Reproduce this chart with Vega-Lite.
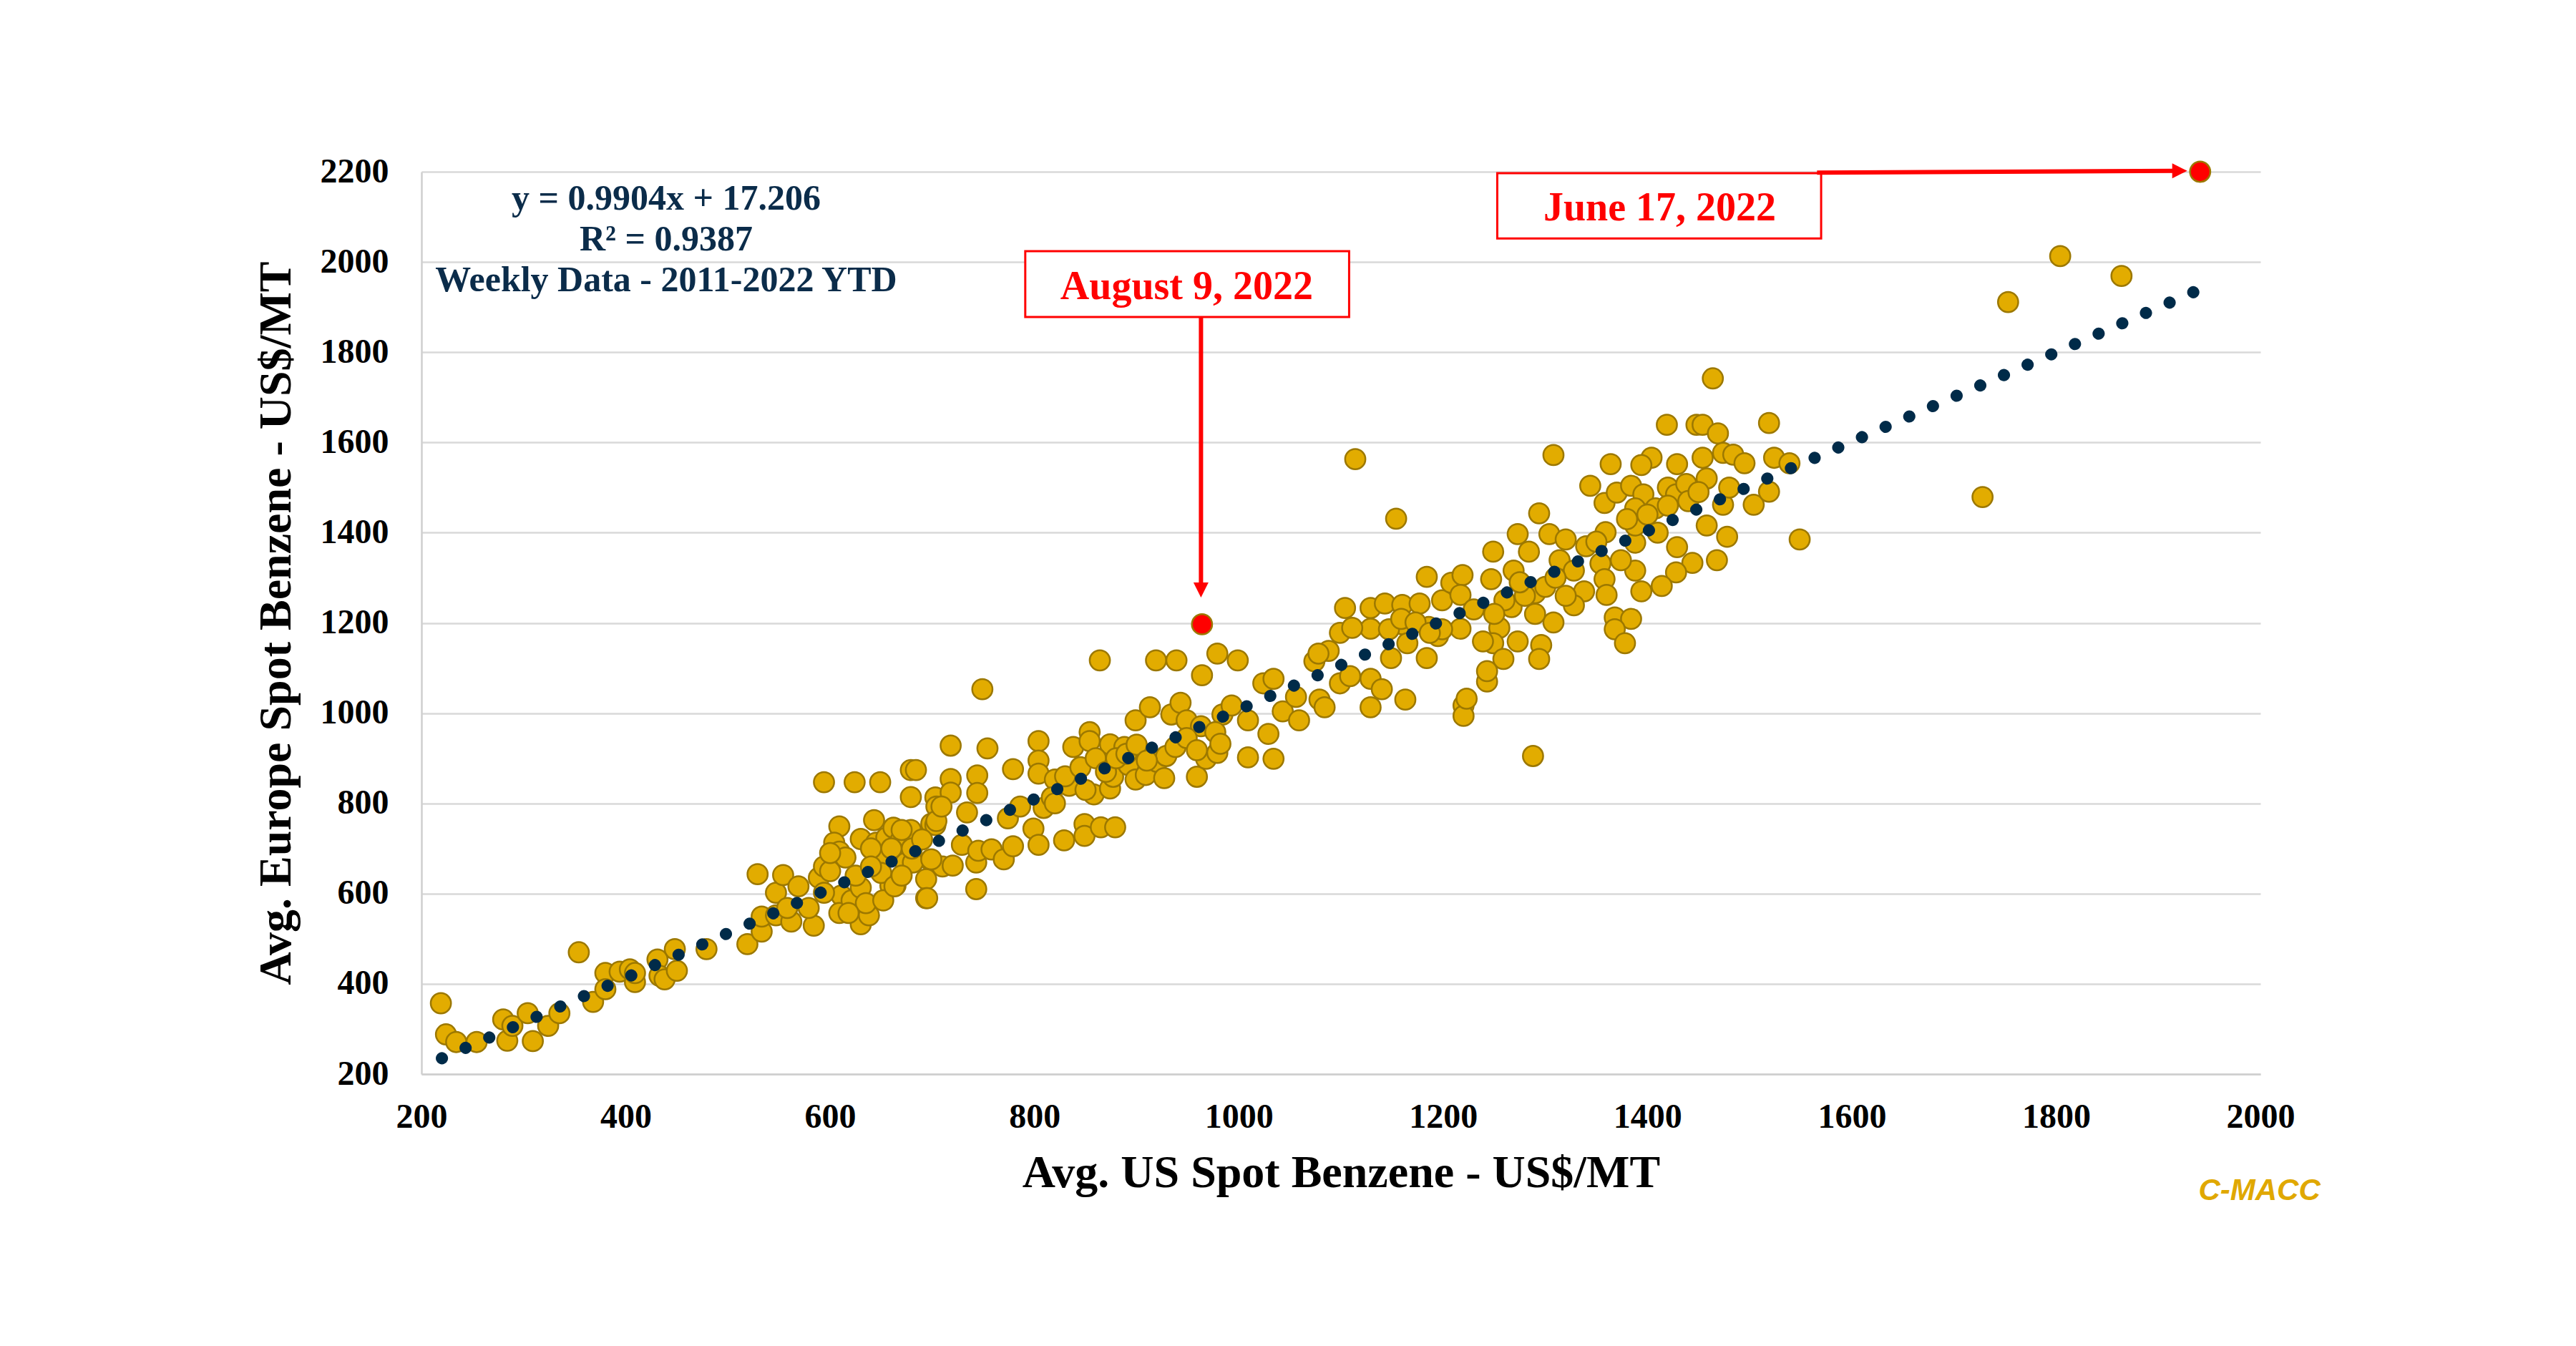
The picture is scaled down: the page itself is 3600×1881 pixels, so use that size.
{
  "$schema": "https://vega.github.io/schema/vega-lite/v6.json",
  "width": 2570,
  "height": 1261,
  "autosize": {"type": "none"},
  "padding": {"left": 589, "top": 240, "right": 441, "bottom": 380},
  "background": "white",
  "config": {
    "view": {"stroke": null},
    "axis": {
      "labelFont": "Liberation Serif",
      "labelFontWeight": "bold",
      "labelFontSize": 48,
      "labelColor": "#000000",
      "titleFont": "Liberation Serif",
      "titleFontWeight": "bold",
      "titleFontSize": 64,
      "titleColor": "#000000",
      "ticks": false,
      "tickSize": 0,
      "domainColor": "#CFCFCF",
      "domainWidth": 2.5,
      "gridColor": "#D9D9D9",
      "gridWidth": 2.5,
      "labelOverlap": false,
      "labelFlush": false,
      "format": "d"
    }
  },
  "datasets": {
    "weekly": [
      {"us":219,"eu":357},{"us":224,"eu":288},{"us":234,"eu":271},{"us":254,"eu":271},{"us":280,"eu":321},{"us":284,"eu":274},{"us":289,"eu":307},{"us":304,"eu":335},{"us":309,"eu":273},{"us":324,"eu":307},
      {"us":335,"eu":335},{"us":354,"eu":470},{"us":368,"eu":360},{"us":380,"eu":424},{"us":380,"eu":388},{"us":394,"eu":427},{"us":404,"eu":432},{"us":409,"eu":404},{"us":409,"eu":424},{"us":431,"eu":454},
      {"us":433,"eu":418},{"us":438,"eu":410},{"us":448,"eu":477},{"us":450,"eu":429},{"us":479,"eu":477},{"us":519,"eu":488},{"us":533,"eu":516},{"us":533,"eu":549},{"us":547,"eu":552},{"us":547,"eu":602},
      {"us":562,"eu":538},{"us":584,"eu":529},{"us":579,"eu":568},{"us":554,"eu":641},{"us":529,"eu":643},{"us":569,"eu":616},{"us":589,"eu":635},{"us":594,"eu":660},{"us":609,"eu":749},{"us":604,"eu":713},
      {"us":609,"eu":693},{"us":611,"eu":596},{"us":609,"eu":557},{"us":630,"eu":532},{"us":638,"eu":552},{"us":621,"eu":585},{"us":630,"eu":613},{"us":635,"eu":579},{"us":643,"eu":763},{"us":630,"eu":721},
      {"us":645,"eu":713},{"us":655,"eu":724},{"us":662,"eu":746},{"us":669,"eu":718},{"us":679,"eu":741},{"us":652,"eu":679},{"us":659,"eu":618},{"us":664,"eu":618},{"us":674,"eu":668},{"us":650,"eu":646},
      {"us":679,"eu":874},{"us":684,"eu":874},{"us":679,"eu":814},{"us":703,"eu":813},{"us":704,"eu":793},{"us":699,"eu":755},{"us":703,"eu":752},{"us":698,"eu":674},{"us":694,"eu":632},{"us":694,"eu":590},
      {"us":710,"eu":660},{"us":718,"eu":854},{"us":718,"eu":824},{"us":594,"eu":847},{"us":624,"eu":847},{"us":649,"eu":847},{"us":558,"eu":568},{"us":594,"eu":602},{"us":618,"eu":557},{"us":652,"eu":585},
      {"us":1154,"eu":1431},{"us":749,"eu":1053},{"us":864,"eu":1117},{"us":919,"eu":1117},{"us":939,"eu":1117},{"us":979,"eu":1132},{"us":999,"eu":1117},{"us":964,"eu":1084},{"us":718,"eu":928},{"us":754,"eu":922},
      {"us":804,"eu":938},{"us":744,"eu":862},{"us":744,"eu":823},{"us":779,"eu":876},{"us":804,"eu":895},{"us":804,"eu":866},{"us":820,"eu":853},{"us":838,"eu":925},{"us":854,"eu":958},{"us":854,"eu":938},
      {"us":874,"eu":931},{"us":888,"eu":925},{"us":899,"eu":984},{"us":913,"eu":1013},{"us":934,"eu":997},{"us":943,"eu":1023},{"us":949,"eu":984},{"us":963,"eu":971},{"us":984,"eu":997},{"us":993,"eu":1017},
      {"us":1009,"eu":984},{"us":1024,"eu":1066},{"us":1034,"eu":1076},{"us":1029,"eu":954},{"us":1009,"eu":902},{"us":1034,"eu":899},{"us":1043,"eu":1004},{"us":1059,"eu":984},{"us":1056,"eu":1036},{"us":1074,"eu":1115},
      {"us":1088,"eu":1138},{"us":1079,"eu":1030},{"us":1084,"eu":1013},{"us":1099,"eu":1178},{"us":1104,"eu":1233},{"us":1099,"eu":1066},{"us":1109,"eu":1082},{"us":1129,"eu":1187},{"us":1129,"eu":1233},{"us":1129,"eu":1076},
      {"us":1129,"eu":1013},{"us":1140,"eu":1053},{"us":1143,"eu":1243},{"us":1149,"eu":1122},{"us":1160,"eu":1240},{"us":1160,"eu":1197},{"us":1163,"eu":1030},{"us":1165,"eu":1155},{"us":1177,"eu":1243},{"us":1184,"eu":1302},
      {"us":1184,"eu":1122},{"us":1195,"eu":1171},{"us":1199,"eu":1250},{"us":1208,"eu":1289},{"us":1217,"eu":1187},{"us":1219,"eu":1306},{"us":1220,"eu":1017},{"us":1220,"eu":994},{"us":1186,"eu":1191},
      {"us":670,"eu":741},{"us":681,"eu":669},{"us":663,"eu":616},{"us":695,"eu":590},{"us":699,"eu":676},{"us":704,"eu":761},{"us":709,"eu":793},{"us":720,"eu":662},{"us":729,"eu":708},{"us":734,"eu":780},
      {"us":743,"eu":610},{"us":743,"eu":669},{"us":745,"eu":695},{"us":758,"eu":698},{"us":770,"eu":676},{"us":774,"eu":767},{"us":779,"eu":705},{"us":786,"eu":793},{"us":799,"eu":744},{"us":804,"eu":708},
      {"us":809,"eu":790},{"us":817,"eu":813},{"us":829,"eu":718},{"us":834,"eu":839},{"us":849,"eu":754},{"us":849,"eu":728},{"us":858,"eu":820},{"us":865,"eu":747},{"us":874,"eu":833},{"us":879,"eu":747},
      {"us":877,"eu":859},{"us":892,"eu":885},{"us":899,"eu":853},{"us":909,"eu":863},{"us":920,"eu":892},{"us":927,"eu":856},{"us":929,"eu":905},{"us":938,"eu":925},{"us":949,"eu":945},{"us":959,"eu":859},
      {"us":968,"eu":899},{"us":979,"eu":912},{"us":977,"eu":958},{"us":959,"eu":918},
      {"us":1078,"eu":1132},{"us":1111,"eu":1189},{"us":1147,"eu":1186},{"us":1159,"eu":1209},{"us":1173,"eu":1201},{"us":1217,"eu":1262},{"us":1223,"eu":1032},{"us":1199,"eu":1186},{"us":1187,"eu":1178},{"us":982,"eu":932},
      {"us":1114,"eu":1563},
      {"us":1464,"eu":1742},{"us":1419,"eu":1639},{"us":1448,"eu":1639},{"us":1454,"eu":1639},{"us":1469,"eu":1620},{"us":1519,"eu":1643},{"us":1308,"eu":1572},{"us":1364,"eu":1552},{"us":1404,"eu":1566},{"us":1394,"eu":1550},
      {"us":1429,"eu":1552},{"us":1454,"eu":1566},{"us":1474,"eu":1577},{"us":1484,"eu":1573},{"us":1495,"eu":1554},{"us":1524,"eu":1566},{"us":1539,"eu":1554},{"us":1344,"eu":1504},{"us":1358,"eu":1466},{"us":1370,"eu":1489},
      {"us":1384,"eu":1504},{"us":1396,"eu":1485},{"us":1388,"eu":1454},{"us":1408,"eu":1454},{"us":1420,"eu":1500},{"us":1428,"eu":1485},{"us":1438,"eu":1508},{"us":1458,"eu":1520},{"us":1458,"eu":1416},{"us":1474,"eu":1462},
      {"us":1504,"eu":1462},{"us":1519,"eu":1491},{"us":1549,"eu":1385},{"us":1478,"eu":1391},{"us":1468,"eu":1339},{"us":1444,"eu":1333},{"us":1429,"eu":1368},{"us":1428,"eu":1312},{"us":1414,"eu":1282},{"us":1394,"eu":1270},
      {"us":1388,"eu":1316},{"us":1388,"eu":1378},{"us":1388,"eu":1416},{"us":1359,"eu":1401},{"us":1374,"eu":1339},{"us":1354,"eu":1332},{"us":1340,"eu":1370},{"us":1358,"eu":1297},{"us":1360,"eu":1262},{"us":1368,"eu":1212},
      {"us":1384,"eu":1209},{"us":1368,"eu":1186},{"us":1378,"eu":1155},{"us":1294,"eu":1443},{"us":1273,"eu":1397},{"us":1284,"eu":1358},{"us":1304,"eu":1397},{"us":1320,"eu":1385},{"us":1314,"eu":1339},{"us":1328,"eu":1316},
      {"us":1338,"eu":1270},{"us":1328,"eu":1239},{"us":1308,"eu":1201},{"us":1296,"eu":1151},{"us":1294,"eu":1120},{"us":1273,"eu":1159},{"us":1290,"eu":1266},{"us":1290,"eu":1220},{"us":1269,"eu":1316},{"us":1249,"eu":1358},
      {"us":1247,"eu":1297},{"us":1267,"eu":1235},{"us":1255,"eu":1189},{"us":1249,"eu":1155},{"us":1239,"eu":1159},{"us":1259,"eu":1120},{"us":1243,"eu":1070},{"us":1243,"eu":1093},{"us":1288,"eu":905},
      {"us":1804,"eu":2013},{"us":1864,"eu":1969},{"us":1753,"eu":1911},{"us":1728,"eu":1479},
      {"us":600,"eu":650},{"us":615,"eu":680},{"us":640,"eu":700},{"us":625,"eu":640},{"us":660,"eu":700},{"us":680,"eu":700},{"us":690,"eu":720},{"us":600,"eu":690},{"us":640,"eu":660},{"us":670,"eu":640},
      {"us":830,"eu":860},{"us":845,"eu":880},{"us":860,"eu":900},{"us":870,"eu":870},{"us":880,"eu":900},{"us":890,"eu":910},{"us":900,"eu":930},{"us":910,"eu":895},{"us":850,"eu":830},{"us":820,"eu":800},
      {"us":1260,"eu":1250},{"us":1280,"eu":1260},{"us":1300,"eu":1280},{"us":1310,"eu":1300},{"us":1275,"eu":1290},{"us":1320,"eu":1260},{"us":1250,"eu":1220},{"us":1230,"eu":1230},{"us":1350,"eu":1380},{"us":1400,"eu":1440},
      {"us":1420,"eu":1460},{"us":1440,"eu":1470},{"us":1380,"eu":1430},{"us":1410,"eu":1400},{"us":1450,"eu":1490},{"us":1480,"eu":1500}
    ],
    "highlight": [
      {"us": 964, "eu": 1197, "date": "August 9, 2022"},
      {"us": 1941, "eu": 2200, "date": "June 17, 2022"}
    ],
    "trend": [
      {"us": 220, "eu": 235.1},
      {"us": 1940, "eu": 1938.6}
    ],
    "equation": [
      {"us": 439.5, "eu": 2116, "label": "y = 0.9904x + 17.206"},
      {"us": 439.5, "eu": 2025.5, "label": "R² = 0.9387"},
      {"us": 439.5, "eu": 1935, "label": "Weekly Data - 2011-2022 YTD"}
    ],
    "boxes": [
      {"us": 791, "us2": 1108, "eu": 1878, "eu2": 2024},
      {"us": 1253, "us2": 1570, "eu": 2052, "eu2": 2197}
    ],
    "notes": [
      {"us": 949, "eu": 1918, "label": "August 9, 2022"},
      {"us": 1412, "eu": 2092, "label": "June 17, 2022"}
    ],
    "arrows": [
      {"us": 963, "us2": 963, "eu": 1878, "eu2": 1285},
      {"us": 1566, "us2": 1915, "eu": 2198, "eu2": 2202}
    ],
    "headDown": [{"us": 963, "eu": 1273}],
    "headRight": [{"us": 1921, "eu": 2202}],
    "brand": [{"us": 1999, "eu": -79, "label": "C-MACC"}]
  },
  "encoding": {
    "x": {
      "field": "us",
      "type": "quantitative",
      "scale": {"domain": [200, 2000], "nice": false, "zero": false},
      "axis": {
        "title": "Avg. US Spot Benzene - US$/MT",
        "values": [200, 400, 600, 800, 1000, 1200, 1400, 1600, 1800, 2000],
        "grid": false,
        "labelPadding": 36,
        "titlePadding": 22
      }
    },
    "y": {
      "field": "eu",
      "type": "quantitative",
      "scale": {"domain": [200, 2200], "nice": false, "zero": false},
      "axis": {
        "title": "Avg. Europe Spot Benzene - US$/MT",
        "values": [200, 400, 600, 800, 1000, 1200, 1400, 1600, 1800, 2000, 2200],
        "grid": true,
        "labelPadding": 46,
        "titlePadding": 29
      }
    }
  },
  "layer": [
    {
      "data": {"name": "weekly"},
      "mark": {"type": "point", "shape": "circle", "filled": true, "size": 800, "fill": "#E2AC00", "stroke": "#9C7800", "strokeWidth": 2.5, "opacity": 1}
    },
    {
      "data": {"name": "trend"},
      "mark": {"type": "line", "stroke": "#002B49", "strokeWidth": 17, "strokeCap": "round", "strokeDash": [0.1, 36]}
    },
    {
      "data": {"name": "highlight"},
      "mark": {"type": "point", "shape": "circle", "filled": true, "size": 800, "fill": "#FF0000", "stroke": "#9C7800", "strokeWidth": 2.5, "opacity": 1}
    },
    {
      "data": {"name": "boxes"},
      "mark": {"type": "rect", "fill": "white", "stroke": "#FF0000", "strokeWidth": 3},
      "encoding": {"x2": {"field": "us2"}, "y2": {"field": "eu2"}}
    },
    {
      "data": {"name": "notes"},
      "mark": {"type": "text", "font": "Liberation Serif", "fontWeight": "bold", "fontSize": 56, "color": "#FF0000", "align": "center", "baseline": "alphabetic"},
      "encoding": {"text": {"field": "label"}}
    },
    {
      "data": {"name": "arrows"},
      "mark": {"type": "rule", "stroke": "#FF0000", "strokeWidth": 6},
      "encoding": {"x2": {"field": "us2"}, "y2": {"field": "eu2"}}
    },
    {
      "data": {"name": "headDown"},
      "mark": {"type": "point", "shape": "M-1,-1L1,-1L0,1Z", "filled": true, "size": 441, "fill": "#FF0000", "strokeWidth": 0, "opacity": 1}
    },
    {
      "data": {"name": "headRight"},
      "mark": {"type": "point", "shape": "M-1,-1L1,0L-1,1Z", "filled": true, "size": 441, "fill": "#FF0000", "strokeWidth": 0, "opacity": 1}
    },
    {
      "data": {"name": "equation"},
      "mark": {"type": "text", "font": "Liberation Serif", "fontWeight": "bold", "fontSize": 50, "color": "#0B2C4A", "align": "center", "baseline": "alphabetic"},
      "encoding": {"text": {"field": "label"}}
    },
    {
      "data": {"name": "brand"},
      "mark": {"type": "text", "font": "Liberation Sans", "fontWeight": "bold", "fontStyle": "italic", "fontSize": 42, "color": "#E0A800", "align": "center", "baseline": "alphabetic"},
      "encoding": {"text": {"field": "label"}}
    }
  ]
}
